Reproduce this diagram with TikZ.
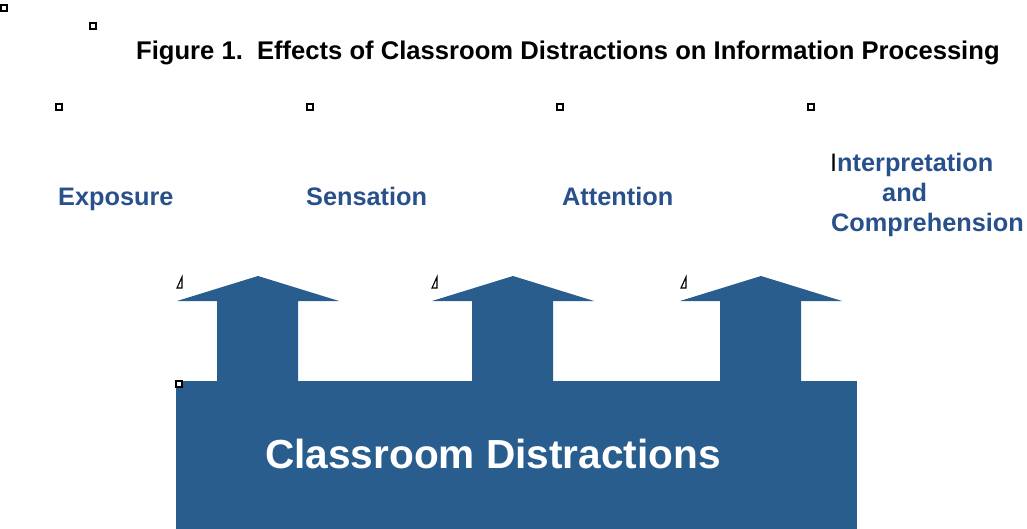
\documentclass[tikz,border=0pt]{standalone}
\usepackage{fontspec}
\setmainfont{Liberation Sans}
\definecolor{boxblue}{HTML}{285D8E}
\definecolor{labblue}{HTML}{28508A}
\tikzset{
  blockfill/.style={fill=boxblue, draw=none},
  lab/.style={text=labblue, font=\bfseries\fontsize{25.3}{30}\selectfont, inner sep=0pt, anchor=base west},
  marker/.style={draw=black, line width=1.5pt, fill=white},
  tri/.style={draw=black, line width=1.1pt}
}
\begin{document}
\begin{tikzpicture}[x=1pt,y=-1pt]
\useasboundingbox (0,0) rectangle (1027,529);
% title
\node[anchor=base west, inner sep=0pt, font=\bfseries\fontsize{25.6}{30}\selectfont] (title) at (136,60)
  {Figure 1.\ \ Effects of Classroom Distractions on Information Processing};
% labels
\node[lab] (exp) at (58,206) {Exposure};
\node[lab] (sen) at (306,206) {Sensation};
\node[lab] (att) at (562,206) {Attention};
\node[lab] (int) at (830,172) {\textcolor{black}{\mdseries I}nterpretation};
\node[lab] (and) at (882,202) {and};
\node[lab] (com) at (831,232) {Comprehension};
% base block
\path[blockfill] (176,381) rectangle (857,529);
\node[text=white, font=\bfseries\fontsize{40.6}{48}\selectfont, inner sep=0pt, anchor=base] (cd) at (493,468) {Classroom Distractions};
% arrows
\foreach \t/\n in {258/a1, 513/a2, 761/a3}{
  \path[blockfill] (\t,276) -- (\t+81,301) -- (\t+40,301) -- (\t+40,382) -- (\t-41,382) -- (\t-41,301) -- (\t-81,301) -- cycle;
}
% anchor markers
\foreach \mx/\my in {4/8, 93/26, 59/107, 310/107, 560/107, 811/107, 179/384}{
  \draw[marker] (\mx-3,\my-3) rectangle (\mx+3,\my+3);
}
\foreach \tx in {182, 437, 686}{
  \draw[tri] (\tx,277) -- (\tx,288) -- (\tx-5,288) -- cycle;
}
\end{tikzpicture}
\end{document}
